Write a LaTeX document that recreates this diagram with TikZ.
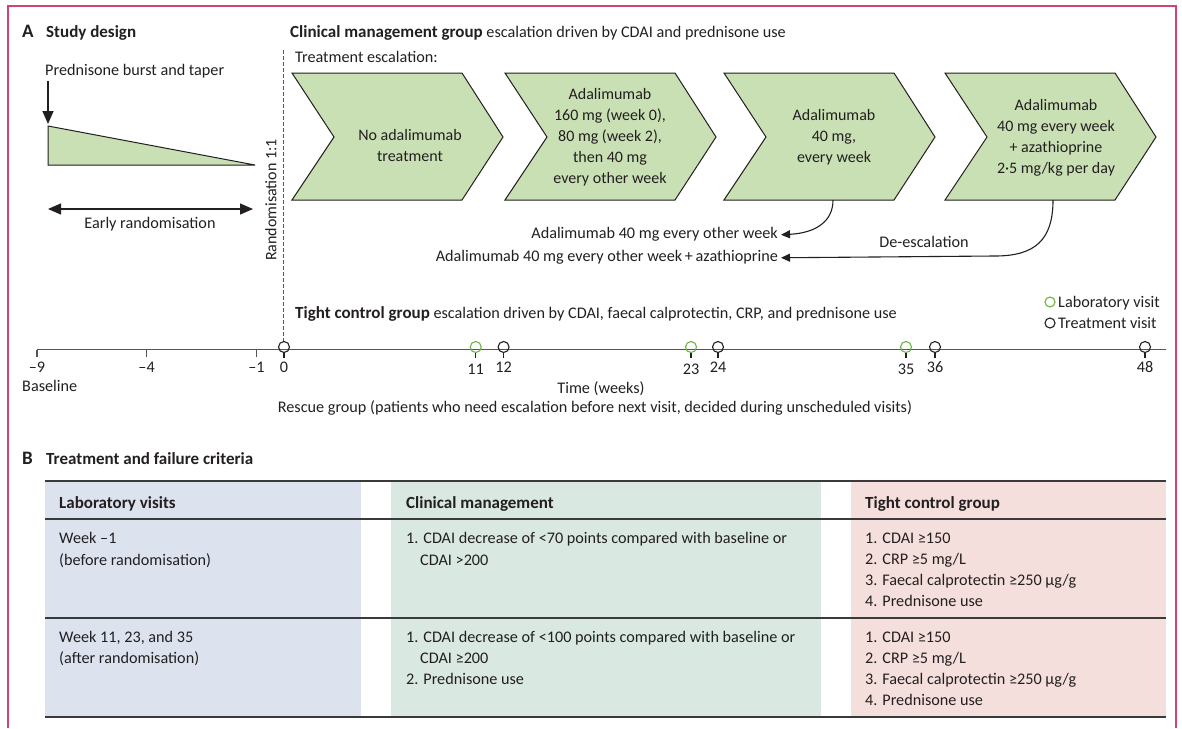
\documentclass[tikz,border=0pt]{standalone}
\usepackage{fontspec}
\setmainfont{Carlito}
\usetikzlibrary{arrows.meta}
\definecolor{chevgreen}{HTML}{C9E0B4}
\definecolor{framepink}{HTML}{D0456E}
\definecolor{dashblue}{HTML}{2F6486}
\definecolor{labgreen}{HTML}{6BB443}
\definecolor{cellblue}{HTML}{DDE3EE}
\definecolor{cellgreen}{HTML}{D9E8E0}
\definecolor{cellpink}{HTML}{F5DFDC}
\definecolor{axisgray}{HTML}{555555}
\definecolor{rulegray}{HTML}{3A3A3A}
\definecolor{inkgray}{HTML}{231F20}
\newcommand{\hb}[1]{{\fontsize{17}{21}\selectfont\bfseries #1}}
\tikzset{
  tx/.style={font=\fontsize{16.2}{21}\selectfont, inner sep=0pt, anchor=base west, text=inkgray},
  bx/.style={tx, font=\fontsize{17}{21}\selectfont\bfseries},
  panel/.style={tx, font=\fontsize{19}{21}\selectfont\bfseries},
  chevtext/.style={font=\fontsize{16}{21}\selectfont, inner sep=0pt, align=center, text=inkgray},
  chevstyle/.style={fill=chevgreen, draw=inkgray, line width=1pt, line join=miter},
  chevron/.pic={\path[chevstyle] (0,0) -- (170,0) -- (211,64) -- (170,127) -- (0,127) -- (42,64) -- cycle;},
  bigarr/.style={draw=inkgray, line width=1.2pt, -{Triangle[length=13pt,width=11pt]}},
  dblarr/.style={draw=inkgray, line width=1.2pt, {Triangle[length=13pt,width=11pt]}-{Triangle[length=13pt,width=11pt]}},
  smallarr/.style={draw=inkgray, line width=1.1pt, -{Triangle[length=9pt,width=8pt]}},
  visit/.style={draw=inkgray, line width=1.1pt},
  rulethick/.style={draw=rulegray, line width=1.8pt},
  rulethin/.style={draw=rulegray, line width=1.2pt},
}
\begin{document}
\begin{tikzpicture}[x=1pt,y=-1pt]
\useasboundingbox (0,0) rectangle (1182,728);
% frame
\draw[framepink, line width=1.3pt] (8,728) -- (8,6) -- (1176,6) -- (1176,728);

% ---------- Panel A ----------
\node[panel] (lblA) at (22,37) {A};
\node[bx] (studydesign) at (46,37) {Study design};
\node[tx] (cmghead) at (290,37) {\hb{Clinical management group} escalation driven by CDAI and prednisone use};
\node[tx] (escal) at (295,62) {Treatment escalation:};

% prednisone
\node[tx] (pred) at (45,75) {Prednisone burst and taper};
\coordinate (predtop) at (48,81);
\coordinate (tritop) at (48,124);
\draw[bigarr] (predtop) -- (tritop);
\path[fill=chevgreen, draw=inkgray, line width=1pt] (48,126) -- (48,165) -- (255,165) -- cycle;
\coordinate (earlyL) at (48,209);
\coordinate (earlyR) at (253,209);
\draw[dblarr] (earlyL) -- (earlyR);
\node[tx, anchor=base] (early) at (150,228) {Early randomisation};

% randomisation line
\coordinate (dashtop) at (283.5,50);
\coordinate (dashbot) at (283.5,342);
\draw[dashblue, line width=1.1pt, dash pattern=on 3.5pt off 2.5pt] (dashtop) -- (dashbot);
\node[chevtext, rotate=90] (rand) at (271,200) {Randomisation 1:1};

% chevrons
\pic at (292,73) {chevron};
\pic at (505,73) {chevron};
\pic at (724,73) {chevron};
\pic at (945,73) {chevron};
\node[chevtext] (ch1) at (410,146) {No adalimumab\\treatment};
\node[chevtext] (ch2) at (610,137) {Adalimumab\\160 mg (week 0),\\80 mg (week 2),\\then 40 mg\\every other week};
\node[chevtext] (ch3) at (834,137) {Adalimumab\\40 mg,\\every week};
\node[chevtext] (ch4) at (1056,138) {Adalimumab\\40 mg every week\\+ azathioprine\\2·5 mg/kg per day};

% de-escalation
\coordinate (c3b) at (833,200);
\coordinate (c4b) at (1053,200);
\coordinate (c4turn) at (995,256);
\node[tx, anchor=base east] (deA) at (778,238) {Adalimumab 40 mg every other week};
\node[tx, anchor=base east] (deB) at (778,261) {Adalimumab 40 mg every other week\,+\,azathioprine};
\node[tx, anchor=base] (deesc) at (924,247) {De-escalation};
\draw[smallarr] (c3b) .. controls (833,222) and (815,233) .. ([xshift=3pt,yshift=-1pt]deA.east);
\draw[smallarr] (c4b) .. controls (1053,240) and (1035,256) .. (c4turn) -- ([xshift=3pt,yshift=-1pt]deB.east);

% tight control
\node[tx] (tight) at (295,318) {\hb{Tight control group} escalation driven by CDAI, faecal calprotectin, CRP, and prednisone use};
\node[circle, draw=labgreen, line width=1.1pt, minimum size=10pt, inner sep=0pt] (leglab) at (1050,302) {};
\node[tx] (leglabt) at (1058,307) {Laboratory visit};
\node[circle, draw=inkgray, line width=1.1pt, minimum size=10pt, inner sep=0pt] (legtrt) at (1050,323) {};
\node[tx] (legtrtt) at (1058,328) {Treatment visit};

% timeline
\coordinate (axL) at (37,349.5);
\coordinate (axR) at (1166,349.5);
\draw[axisgray, line width=1.6pt] (axL) -- (axR);
\foreach \x/\lab/\nm in {37/–9/m9, 146.6/–4/m4, 256.4/–1/m1} {
  \draw[axisgray, line width=1.1pt] (\x,349.5) -- (\x,357);
  \node[tx, anchor=base] (lab\nm) at (\x,372) {\lab};
}
\foreach \x/\lab in {284/0, 503.6/12, 718/24, 935/36, 1145/48} {
  \draw[visit] (\x,352.5) -- (\x,358);
  \node[circle, draw=inkgray, line width=1.1pt, minimum size=11pt, inner sep=0pt] (tv\lab) at (\x,347) {};
  \node[tx, anchor=base] (tl\lab) at (\x,372) {\lab};
}
\foreach \x/\lab in {475.7/11, 691/23, 906/35} {
  \draw[visit] (\x,352.5) -- (\x,358);
  \node[circle, draw=labgreen, line width=1.1pt, minimum size=11pt, inner sep=0pt] (lv\lab) at (\x,347) {};
  \node[tx, anchor=base] (ll\lab) at (\x,374) {\lab};
}
\node[tx] (baseline) at (22,391) {Baseline};
\node[tx, anchor=base] (time) at (601,393) {Time (weeks)};
\node[tx, anchor=base] (rescue) at (595,412) {Rescue group (patients who need escalation before next visit, decided during unscheduled visits)};

% ---------- Panel B ----------
\node[panel] (lblB) at (22,464) {B};
\node[bx] (btitle) at (46,464) {Treatment and failure criteria};

\fill[cellblue] (45,481) rectangle (361,717);
\fill[cellgreen] (391,481) rectangle (821,717);
\fill[cellpink] (851,481) rectangle (1166,717);
\coordinate (r0L) at (45,481); \coordinate (r0R) at (1166,481);
\coordinate (r1L) at (45,519); \coordinate (r1R) at (1166,519);
\coordinate (r2L) at (45,618); \coordinate (r2R) at (1166,618);
\coordinate (r3L) at (45,717); \coordinate (r3R) at (1166,717);
\draw[rulethick] (r0L) -- (r0R);
\draw[rulethin] (r1L) -- (r1R);
\draw[rulethin] (r2L) -- (r2R);
\draw[rulethick] (r3L) -- (r3R);

\node[bx] (h1) at (59,508) {Laboratory visits};
\node[bx] (h2) at (406,508) {Clinical management};
\node[bx] (h3) at (865,508) {Tight control group};

\node[tx] (a1) at (59,543) {Week –1};
\node[tx] (a2) at (59,565) {(before randomisation)};
\node[tx] (b1) at (406,543) {1. CDAI decrease of <70 points compared with baseline or};
\node[tx] (b2) at (420,565) {CDAI >200};
\node[tx] (c1) at (865,543) {1. CDAI ≥150};
\node[tx] (c2) at (865,564) {2. CRP ≥5 mg/L};
\node[tx] (c3) at (865,585) {3. Faecal calprotectin ≥250 µg/g};
\node[tx] (c4) at (865,606) {4. Prednisone use};

\node[tx] (d1) at (59,642) {Week 11, 23, and 35};
\node[tx] (d2) at (59,663) {(after randomisation)};
\node[tx] (e1) at (406,642) {1. CDAI decrease of <100 points compared with baseline or};
\node[tx] (e2) at (420,663) {CDAI ≥200};
\node[tx] (e3) at (406,684) {2. Prednisone use};
\node[tx] (f1) at (865,642) {1. CDAI ≥150};
\node[tx] (f2) at (865,663) {2. CRP ≥5 mg/L};
\node[tx] (f3) at (865,684) {3. Faecal calprotectin ≥250 µg/g};
\node[tx] (f4) at (865,705) {4. Prednisone use};
\end{tikzpicture}
\end{document}
